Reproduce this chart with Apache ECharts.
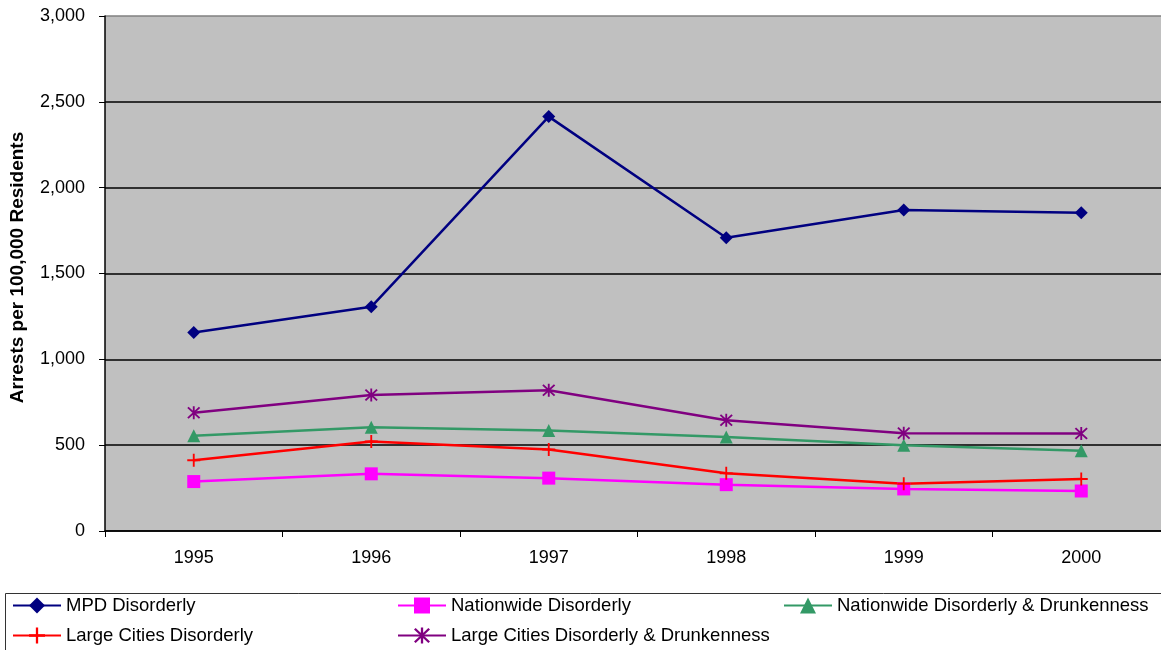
<!DOCTYPE html>
<html>
<head>
<meta charset="utf-8">
<style>
  html, body { margin: 0; padding: 0; background: #ffffff; overflow: hidden; width: 1161px; height: 650px; }
  /* drawing surface runs a little past the right edge so the last band is clipped */
  #chart { width: 1175px; height: 650px; }
</style>
<script src="https://cdn.jsdelivr.net/npm/echarts@6/dist/echarts.min.js"></script>
</head>
<body>
<div id="chart"></div>
<script>
// Arrests per 100,000 residents, 1995-2000
const years = ['1995', '1996', '1997', '1998', '1999', '2000'];
const mpdDisorderly = [1156, 1306, 2414, 1708, 1870, 1854];
const nationwideDisorderly = [288, 333, 308, 270, 245, 233];
const nationwideDisorderlyDrunk = [555, 605, 585, 548, 500, 468];
const largeCitiesDisorderly = [412, 522, 475, 336, 275, 303];
const largeCitiesDisorderlyDrunk = [689, 792, 820, 645, 570, 568];

const yTicks = [0, 500, 1000, 1500, 2000, 2500, 3000];

const FONT = '"Liberation Sans", Arial, sans-serif';

// Filled plus and asterisk glyphs used as point markers
const plusPath = 'path://M-1,-7 L1,-7 L1,-1 L7,-1 L7,1 L1,1 L1,7 L-1,7 L-1,1 L-7,1 L-7,-1 L-1,-1 Z';
const starPath = 'path://M-0.8,-6 L0.8,-6 L0.8,6 L-0.8,6 Z ' +
  'M-4.43,-5.57 L5.57,4.43 L4.43,5.57 L-5.57,-4.43 Z ' +
  'M5.57,-4.43 L-4.43,5.57 L-5.57,4.43 L4.43,-5.57 Z';

const seriesDefs = [
  { name: 'MPD Disorderly', data: mpdDisorderly, color: '#000080', symbol: 'diamond', size: 13 },
  { name: 'Nationwide Disorderly', data: nationwideDisorderly, color: '#FF00FF', symbol: 'rect', size: 13 },
  { name: 'Nationwide Disorderly & Drunkenness', data: nationwideDisorderlyDrunk, color: '#339966', symbol: 'triangle', size: 13 },
  { name: 'Large Cities Disorderly', data: largeCitiesDisorderly, color: '#FF0000', symbol: plusPath, size: 13 },
  { name: 'Large Cities Disorderly & Drunkenness', data: largeCitiesDisorderlyDrunk, color: '#800080', symbol: starPath, size: 13 }
];

// Legend slots: [left, top] for each series
const legendSlots = [[12, 596], [397, 596], [783, 596], [12, 626], [397, 626]];

// Horizontal rules: black inside the plot, grey along the top edge
const splitColors = yTicks.map((t, i) => (i === yTicks.length - 1 ? '#808080' : '#000000'));

const chart = echarts.init(document.getElementById('chart'), null, { renderer: 'canvas' });

chart.setOption({
  backgroundColor: '#ffffff',
  animation: false,
  textStyle: { fontFamily: FONT },
  grid: {
    left: 105, top: 16, bottom: 119, right: 5,
    show: true,
    backgroundColor: '#C0C0C0',
    borderColor: '#808080',
    borderWidth: 0
  },
  xAxis: {
    type: 'category',
    data: years,
    boundaryGap: true,
    axisLine: { lineStyle: { color: '#000', width: 1.5 } },
    axisTick: { show: true, length: 6, interval: 0, lineStyle: { color: '#000' } },
    axisLabel: { color: '#000', fontSize: 18, fontFamily: FONT, margin: 18 },
    splitLine: { show: false }
  },
  yAxis: {
    type: 'value',
    min: yTicks[0],
    max: yTicks[yTicks.length - 1],
    interval: 500,
    name: 'Arrests per 100,000 Residents',
    nameLocation: 'middle',
    nameGap: 78,
    nameTextStyle: { color: '#000', fontSize: 19, fontWeight: 'bold', fontFamily: FONT, padding: [0, 0, 0, 12] },
    axisLine: { show: true, lineStyle: { color: '#000', width: 1.5 } },
    axisTick: { show: true, length: 6, lineStyle: { color: '#000' } },
    axisLabel: {
      color: '#000', fontSize: 18, fontFamily: FONT, margin: 20,
      formatter: v => v.toLocaleString('en-US')
    },
    splitLine: { show: true, lineStyle: { color: splitColors, width: 1.5 } }
  },
  legend: seriesDefs.map((s, i) => ({
    data: [s.name],
    left: legendSlots[i][0],
    top: legendSlots[i][1],
    padding: 0,
    itemWidth: 48,
    itemHeight: 20,
    textStyle: { color: '#000', fontSize: 18.5, fontFamily: FONT },
    selectedMode: false
  })),
  graphic: [{
    type: 'rect',
    shape: { x: 5.5, y: 593.5, width: 1200, height: 100 },
    style: { fill: 'none', stroke: '#333', lineWidth: 1 },
    silent: true,
    z: -1
  }],
  series: seriesDefs.map(s => ({
    name: s.name,
    type: 'line',
    data: s.data,
    symbol: s.symbol,
    symbolSize: s.size,
    showAllSymbol: true,
    color: s.color,
    lineStyle: { color: s.color, width: 2.5 },
    itemStyle: { color: s.color },
    emphasis: { disabled: true }
  }))
});
</script>
</body>
</html>
